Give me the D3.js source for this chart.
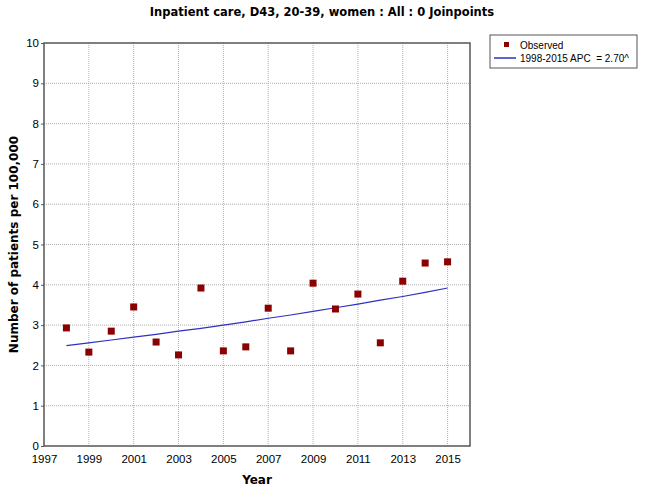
<!DOCTYPE html>
<html>
<head>
<meta charset="utf-8">
<script src="https://cdn.jsdelivr.net/npm/d3@7"></script>
<style>
  body { margin: 0; background: #fff; }
  text { font-family: "Liberation Sans", Arial, sans-serif; }
  .bold { font-family: "DejaVu Sans", Tahoma, sans-serif; font-weight: bold; }
</style>
</head>
<body>
<svg id="chart" width="645" height="488"></svg>
<script>
var years = [1998, 1999, 2000, 2001, 2002, 2003, 2004, 2005, 2006, 2007, 2008, 2009, 2010, 2011, 2012, 2013, 2014, 2015];
var observed = [2.93, 2.33, 2.85, 3.45, 2.58, 2.26, 3.92, 2.36, 2.46, 3.42, 2.36, 4.04, 3.40, 3.77, 2.56, 4.09, 4.54, 4.57];
var fitted = [2.49, 2.56, 2.63, 2.70, 2.77, 2.85, 2.92, 3.00, 3.08, 3.17, 3.25, 3.34, 3.43, 3.52, 3.62, 3.71, 3.81, 3.92];
var xTicks = [1997, 1999, 2001, 2003, 2005, 2007, 2009, 2011, 2013, 2015];
var yTicks = [0, 1, 2, 3, 4, 5, 6, 7, 8, 9, 10];

var svg = d3.select("#chart"),
  margin = {top: 43, right: 175, bottom: 42, left: 44},
  width = 645 - margin.left - margin.right,
  height = 488 - margin.top - margin.bottom,
  g = svg.append("g").attr("transform", "translate(" + margin.left + "," + margin.top + ")");

var x = d3.scaleLinear().domain([1997, 2016]).range([0, width]);
var y = d3.scaleLinear().domain([0, 10]).range([height, 0]);

// grid
g.append("g")
  .selectAll("line")
  .data(xTicks.slice(1))
  .enter().append("line")
  .attr("x1", function(d) { return x(d); })
  .attr("x2", function(d) { return x(d); })
  .attr("y1", 0).attr("y2", height)
  .attr("stroke", "#b0b0b0").attr("stroke-dasharray", "1,1");

g.append("g")
  .selectAll("line")
  .data(yTicks.slice(1, -1))
  .enter().append("line")
  .attr("y1", function(d) { return y(d); })
  .attr("y2", function(d) { return y(d); })
  .attr("x1", 0).attr("x2", width)
  .attr("stroke", "#b0b0b0").attr("stroke-dasharray", "1,1");

// axes
var xAxis = g.append("g")
  .attr("transform", "translate(0," + height + ")")
  .call(d3.axisBottom(x).tickValues(xTicks).tickFormat(d3.format("d")).tickSize(0).tickPadding(9));
xAxis.select(".domain").remove();
xAxis.selectAll("text").attr("font-size", 11.5).attr("fill", "#000");

var yAxis = g.append("g")
  .call(d3.axisLeft(y).tickValues(yTicks).tickSize(3).tickPadding(2));
yAxis.select(".domain").remove();
yAxis.selectAll("text").attr("font-size", 11.5).attr("fill", "#000");
yAxis.selectAll("line").attr("stroke", "#555");

g.append("rect")
  .attr("width", width).attr("height", height)
  .attr("fill", "none").attr("stroke", "#555").attr("stroke-width", 1.5);

// fitted line
var line = d3.line()
  .x(function(d, i) { return x(years[i]); })
  .y(function(d) { return y(d); });

g.append("path")
  .datum(fitted)
  .attr("fill", "none")
  .attr("stroke", "#3030c0")
  .attr("stroke-width", 1.2)
  .attr("d", line);

// observed points
g.selectAll(".pt")
  .data(observed)
  .enter().append("rect")
  .attr("class", "pt")
  .attr("x", function(d, i) { return x(years[i]) - 3.5; })
  .attr("y", function(d) { return y(d) - 3.5; })
  .attr("width", 7).attr("height", 7)
  .attr("fill", "#8b0000");

// titles
svg.append("text").attr("class", "bold")
  .attr("x", 322).attr("y", 16)
  .attr("text-anchor", "middle")
  .attr("font-size", 11.5)
  .text("Inpatient care, D43, 20-39, women : All : 0 Joinpoints");

svg.append("text").attr("class", "bold")
  .attr("x", margin.left + width / 2).attr("y", 484)
  .attr("text-anchor", "middle")
  .attr("font-size", 12)
  .text("Year");

svg.append("text").attr("class", "bold")
  .attr("transform", "translate(18," + (margin.top + height / 2) + ") rotate(-90)")
  .attr("text-anchor", "middle")
  .attr("font-size", 12)
  .text("Number of patients per 100,000");

// legend
var lg = svg.append("g").attr("transform", "translate(490,35)");
lg.append("rect").attr("width", 147).attr("height", 33)
  .attr("fill", "#fff").attr("stroke", "#555");
lg.append("rect").attr("x", 14).attr("y", 7).attr("width", 5).attr("height", 5).attr("fill", "#8b0000");
lg.append("text").attr("x", 30).attr("y", 13.5).attr("font-size", 10).text("Observed");
lg.append("line").attr("x1", 4).attr("x2", 26).attr("y1", 23).attr("y2", 23)
  .attr("stroke", "#3030c0").attr("stroke-width", 1.5);
lg.append("text").attr("x", 30).attr("y", 26.5).attr("font-size", 10).attr("xml:space", "preserve")
  .text("1998-2015 APC  = 2.70^");
</script>
</body>
</html>
